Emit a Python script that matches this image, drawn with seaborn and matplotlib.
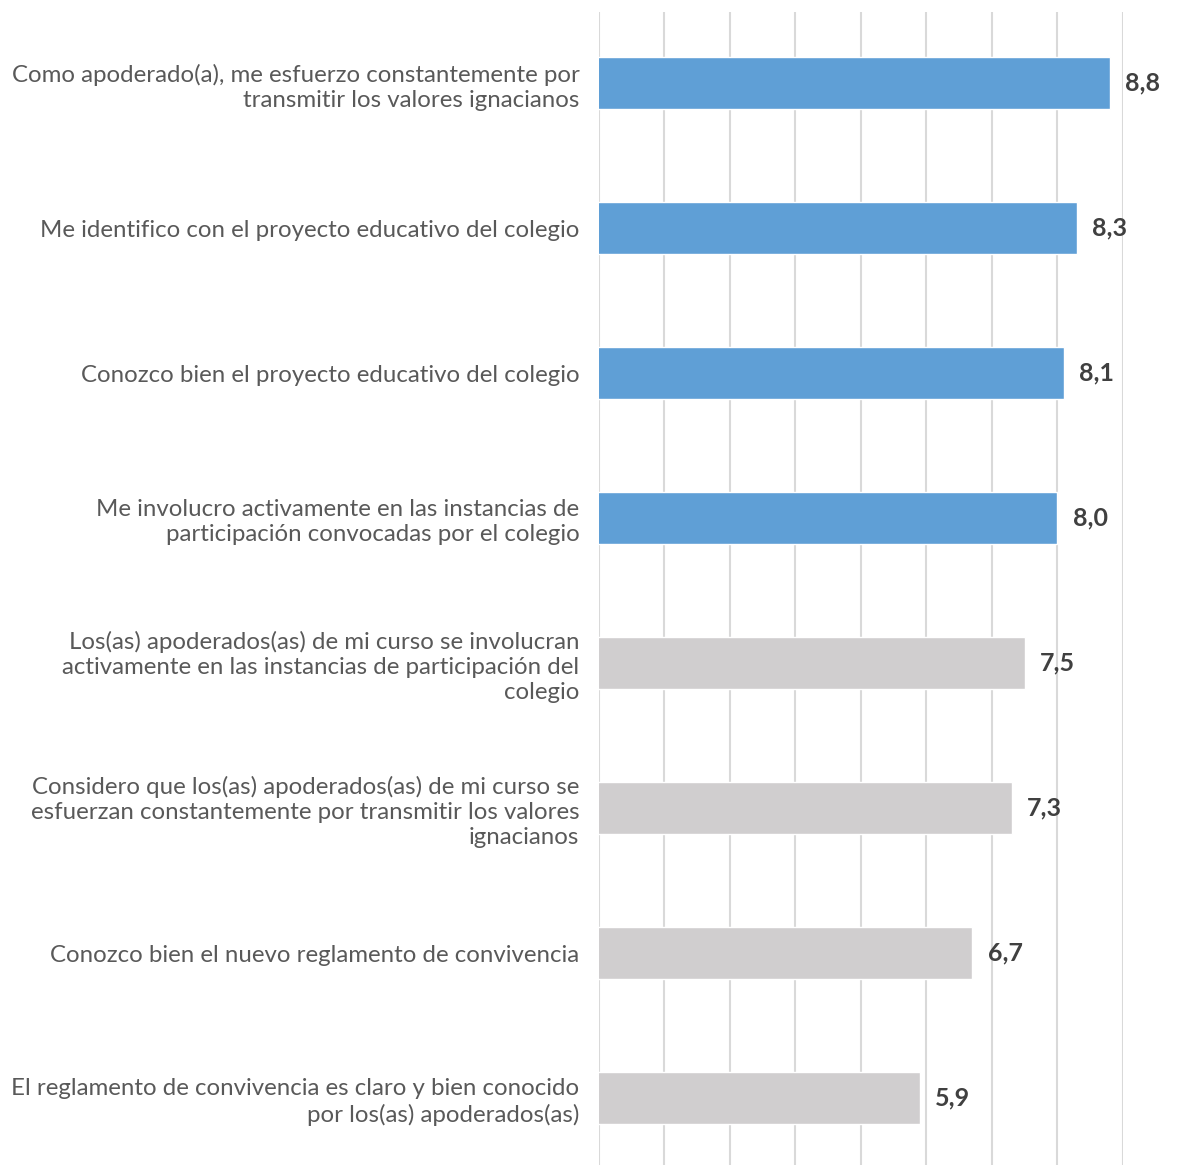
import matplotlib
matplotlib.use("Agg")
import matplotlib.pyplot as plt
import seaborn as sns
import pandas as pd

# datos de la encuesta
categories = [
    "Como apoderado(a), me esfuerzo constantemente por\ntransmitir los valores ignacianos",
    "Me identifico con el proyecto educativo del colegio",
    "Conozco bien el proyecto educativo del colegio",
    "Me involucro activamente en las instancias de\nparticipación convocadas por el colegio",
    "Los(as) apoderados(as) de mi curso se involucran\nactivamente en las instancias de participación del\ncolegio",
    "Considero que los(as) apoderados(as) de mi curso se\nesfuerzan constantemente por transmitir los valores\nignacianos",
    "Conozco bien el nuevo reglamento de convivencia",
    "El reglamento de convivencia es claro y bien conocido\npor los(as) apoderados(as)",
]
values = [8.8, 8.3, 8.1, 8.0, 7.5, 7.3, 6.7, 5.9]
groups = ["propio"] * 4 + ["curso"] * 4

colors = {"propio": "#5F9FD6", "curso": "#D0CECF"}

df = pd.DataFrame({"item": categories, "valor": values, "grupo": groups})

sns.set_style("white")
plt.rcParams["font.family"] = ["Lato", "DejaVu Sans"]

fig = plt.figure(figsize=(11.79, 11.65), dpi=100)
ax = fig.add_axes([0.508, 0.0, 0.4445, 0.9897])

sns.barplot(data=df, y="item", x="valor", hue="grupo", palette=colors,
            dodge=False, legend=False, width=0.36, saturation=1,
            ax=ax, zorder=2)

ax.set_xlim(1, 9)
ax.set_ylim(7.462, -0.49)
ax.set_xticks(range(1, 10))
ax.xaxis.grid(True, color="#D9D9D9", linewidth=1.5, zorder=0)
ax.set_axisbelow(True)
ax.tick_params(axis="x", labelbottom=False, length=0)
ax.tick_params(axis="y", length=0, pad=14, labelsize=17.3, labelcolor="#595959")
for lbl in ax.get_yticklabels():
    lbl.set_horizontalalignment("right")
    lbl.set_linespacing(1.25)
ax.set_xlabel("")
ax.set_ylabel("")
sns.despine(ax=ax, left=True, bottom=True)

for i, v in enumerate(values):
    ax.annotate(f"{v:.1f}".replace(".", ","), xy=(v, i), xytext=(11, 0),
                textcoords="offset points", va="center", ha="left",
                fontsize=18, fontweight="bold", color="#404040",
                annotation_clip=False)

fig.savefig("out.png", dpi=100)
